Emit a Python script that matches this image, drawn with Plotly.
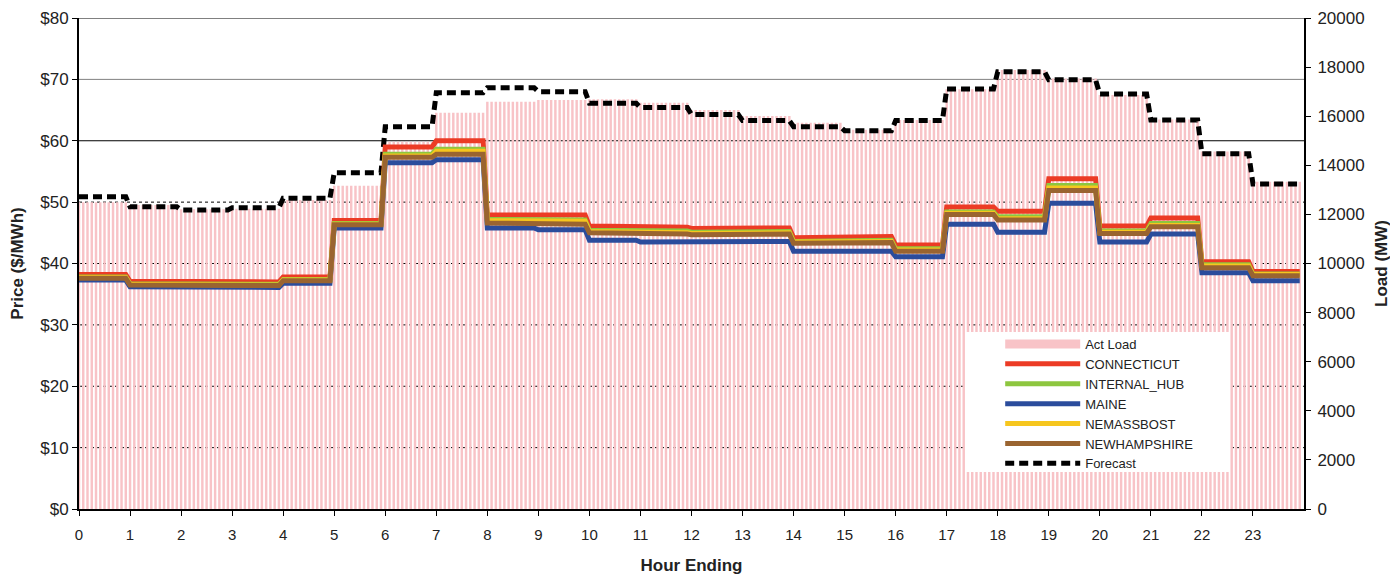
import numpy as np
import plotly.graph_objects as go

# ---------------- data (hourly values, shown at 5-minute resolution) ----------------
hours = list(range(24))
hour_labels = [str(h) for h in hours]
intervals_per_hour = 12

act_load = [12490, 12380, 12210, 12230, 12590, 13170, 14960, 16140, 16590, 16660, 16690, 16550,
            16250, 16010, 15735, 15450, 15845, 17095, 17880, 17540, 16860, 15870, 14560, 13330]
forecast = [12720, 12310, 12180, 12270, 12660, 13700, 15570, 16960, 17160, 17000, 16530, 16350,
            16070, 15820, 15570, 15410, 15820, 17110, 17810, 17480, 16900, 15850, 14470, 13240]

connecticut = [38.2, 37.1, 37.0, 37.0, 37.8, 47.0, 59.0, 60.0, 47.9, 47.9, 46.1, 45.9,
               45.7, 45.8, 44.2, 44.4, 43.0, 49.2, 48.5, 53.8, 46.1, 47.4, 40.3, 38.7]
internal_hub = [37.8, 36.7, 36.6, 36.6, 37.4, 46.5, 57.8, 58.6, 47.2, 47.1, 45.4, 45.3,
                45.1, 45.2, 43.6, 43.8, 42.4, 48.4, 47.6, 52.7, 45.3, 46.5, 39.8, 38.3]
maine = [37.3, 36.2, 36.2, 36.1, 36.8, 45.8, 56.4, 56.9, 45.8, 45.5, 43.8, 43.5,
         43.4, 43.6, 42.0, 42.0, 41.1, 46.4, 45.1, 49.8, 43.5, 44.8, 38.5, 37.2]
nemassbost = [37.7, 36.6, 36.5, 36.5, 37.3, 46.4, 57.5, 58.3, 47.0, 46.9, 45.2, 45.0,
              44.9, 45.0, 43.5, 43.6, 42.2, 48.2, 47.3, 52.3, 45.1, 46.2, 39.6, 38.2]
newhampshire = [37.6, 36.5, 36.4, 36.4, 37.2, 46.3, 57.3, 57.8, 46.6, 46.4, 45.0, 44.8,
                44.7, 44.8, 43.3, 43.4, 42.0, 48.0, 47.1, 51.9, 44.9, 46.0, 39.3, 38.0]

zone_names = ["CONNECTICUT", "INTERNAL_HUB", "MAINE", "NEMASSBOST", "NEWHAMPSHIRE"]
zone_values = [connecticut, internal_hub, maine, nemassbost, newhampshire]
zone_colors = ["#EC3B25", "#8DC63F", "#2B4C9C", "#F6C61E", "#9A6430"]

PINK = "#F8C3C7"
FONT = "Arial, Liberation Sans, sans-serif"

# 5-minute interval positions on the hour axis
x = np.arange(len(hours) * intervals_per_hour) / intervals_per_hour


def expand(v):
    return np.repeat(np.asarray(v, dtype=float), intervals_per_hour)


fig = go.Figure()

fig.add_trace(go.Bar(x=x, y=expand(act_load), yaxis="y", width=0.048,
                     marker=dict(color=PINK, line=dict(width=0)),
                     name="Act Load", showlegend=False, hoverinfo="skip"))
# legend entry for the load bars (wide pink swatch)
fig.add_trace(go.Scatter(x=[None], y=[None], yaxis="y", mode="lines",
                         line=dict(color=PINK, width=9), name="Act Load"))

for name, vals, col in zip(zone_names, zone_values, zone_colors):
    fig.add_trace(go.Scatter(x=x, y=expand(vals), yaxis="y2", mode="lines",
                             line=dict(color=col, width=5), name=name))

fig.add_trace(go.Scatter(x=x, y=expand(forecast), yaxis="y", mode="lines",
                         line=dict(color="black", width=5, dash="9px,5px"),
                         name="Forecast"))

# gridlines on the price axis
shapes = []
for v in [10, 20, 30, 40, 50]:
    shapes.append(dict(type="line", xref="paper", x0=0, x1=1, yref="y2", y0=v, y1=v,
                       line=dict(color="black", width=1, dash="dot"), layer="below"))
shapes.append(dict(type="line", xref="paper", x0=0, x1=1, yref="y2", y0=60, y1=60,
                   line=dict(color="black", width=1), layer="below"))
shapes.append(dict(type="line", xref="paper", x0=0, x1=1, yref="y2", y0=70, y1=70,
                   line=dict(color="#808080", width=1), layer="below"))
shapes.append(dict(type="line", xref="paper", x0=0, x1=1, yref="y2", y0=80, y1=80,
                   line=dict(color="#808080", width=2), layer="above"))
# white legend box
shapes.append(dict(type="rect", xref="paper", yref="paper", x0=0.7233, x1=0.9396,
                   y0=0.0754, y1=0.3605, fillcolor="white", line=dict(width=0), layer="above"))

fig.update_layout(
    width=1398, height=575,
    margin=dict(l=71, r=102, t=10, b=74, autoexpand=False),
    paper_bgcolor="white", plot_bgcolor="white",
    font=dict(family=FONT, size=15, color="#222222"),
    showlegend=True,
    legend=dict(x=0.752, y=0.3666, xanchor="left", yanchor="top",
                bgcolor="rgba(0,0,0,0)", font=dict(size=13, color="#222222"),
                itemwidth=75, tracegroupgap=0, traceorder="normal"),
    xaxis=dict(range=[0, 24], tickmode="array", tickvals=hours, ticktext=hour_labels,
               ticks="outside", ticklen=5, tickcolor="black", showgrid=False,
               ticklabelstandoff=6,
               showline=True, linecolor="black", linewidth=2, zeroline=False,
               automargin=False,
               title=dict(text="<b>Hour Ending</b>", font=dict(size=17), standoff=17)),
    yaxis=dict(side="right", range=[0, 20000], dtick=2000, tickformat="d",
               ticks="outside", ticklen=5, tickfont=dict(size=17), ticklabelstandoff=3,
               tickcolor="black", showgrid=False, showline=True, linecolor="black",
               linewidth=2, zeroline=False, automargin=False,
               title=dict(text="<b>Load (MW)</b>", font=dict(size=17), standoff=11)),
    yaxis2=dict(overlaying="y", side="left", range=[0, 80], dtick=10, tickprefix="$",
                ticks="outside", ticklen=5, tickcolor="black", showgrid=False,
                tickfont=dict(size=17),
                showline=True, linecolor="black", linewidth=2, zeroline=False,
                automargin=False,
                title=dict(text="<b>Price ($/MWh)</b>", font=dict(size=17), standoff=14)),
    shapes=shapes,
)

fig.write_html("out.html")
